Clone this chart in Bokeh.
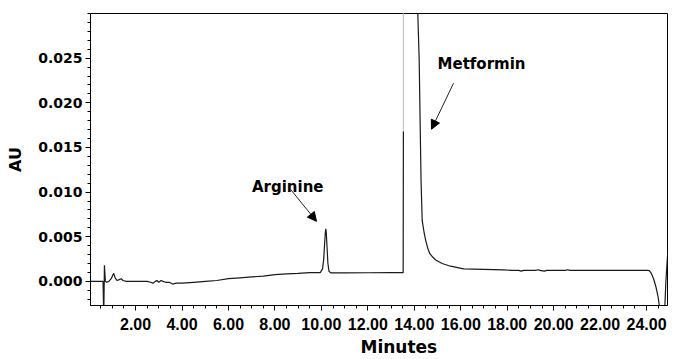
import numpy as np
from bokeh.plotting import figure
from bokeh.models import (Range1d, FixedTicker, NumeralTickFormatter, Arrow,
                          NormalHead, Label, Title)
from bokeh.embed import file_html
from bokeh.resources import INLINE

# ---- data ----
time_min = [0.00, 0.30, 0.60, 0.63, 0.66, 0.70, 0.75, 0.85, 0.95, 1.02, 1.06,
            1.12, 1.20, 1.30, 1.38, 1.46, 1.60, 2.00, 2.50, 2.65, 2.75, 2.85,
            2.92, 3.00, 3.10, 3.18, 3.30, 3.45, 3.60, 3.75, 4.00, 4.50, 5.00,
            5.50, 6.00, 6.50, 7.00, 7.50, 8.00, 8.50, 9.00, 9.50, 9.95, 10.05,
            10.10, 10.14, 10.17, 10.19, 10.21, 10.24, 10.28, 10.33, 10.42,
            11.00, 12.00, 13.00, 13.52, 13.53, 13.54, 14.12, 14.15, 14.21,
            14.25, 14.29, 14.34, 14.42, 14.49, 14.58, 14.67, 14.80, 14.92,
            15.20, 15.56, 16.12, 17.00, 17.84, 18.20, 18.50, 18.60, 18.70,
            19.20, 19.35, 19.40, 19.60, 19.70, 20.50, 20.60, 20.70, 21.50,
            22.50, 23.50, 24.04, 24.12, 24.20, 24.30, 24.40, 24.50, 24.57,
            24.78, 24.83, 24.90, 24.95]
au = [0.0000, 0.0000, 0.0000, -0.0040, 0.0018, 0.0000, -0.0001, 0.0000,
      0.0003, 0.0007, 0.0009, 0.0004, 0.0001, 0.0002, 0.0003, 0.0001,
      0.0000, 0.0000, 0.0000, -0.0001, -0.0002, 0.0000, 0.0001, -0.0001,
      0.0001, 0.0000, -0.0001, -0.0001, -0.0003, -0.0002, -0.0002, -0.0001,
      0.0000, 0.0001, 0.0003, 0.0004, 0.0005, 0.0006, 0.00075, 0.00085,
      0.0009, 0.00098, 0.00098, 0.0014, 0.0025, 0.0043, 0.0055, 0.0059,
      0.0055, 0.0040, 0.0020, 0.0011, 0.00095, 0.00095, 0.00097, 0.00098,
      0.00098, 0.0168, 0.2000, 0.2000, 0.0300, 0.0248, 0.0180, 0.0113,
      0.0068, 0.0055, 0.0046, 0.0037, 0.0031, 0.0027, 0.0024, 0.0020,
      0.0017, 0.0014, 0.00135, 0.0013, 0.00123, 0.00123, 0.00115, 0.00123,
      0.00123, 0.00130, 0.00123, 0.00115, 0.00123, 0.00123, 0.00130,
      0.00123, 0.00123, 0.00123, 0.00123, 0.00123, 0.0012, 0.0009, 0.0003,
      -0.0006, -0.0018, -0.0032, -0.0032, 0.0000, 0.0028, 0.0040]

y_ticks = [0.000, 0.005, 0.010, 0.015, 0.020, 0.025]
x_ticks = [2, 4, 6, 8, 10, 12, 14, 16, 18, 20, 22, 24]

peak_names = ["Arginine", "Metformin"]
label_pos = [(8.55, 0.01057), (15.0, 0.02433)]
arrow_from = [(8.67, 0.01031), (15.69, 0.0222)]
arrow_to = [(9.79, 0.00673), (14.74, 0.01704)]

# split trace: saturated rise (grey) vs. rest (dark)
i_rise = time_min.index(13.53)
i_top = time_min.index(13.54)
i_fall = time_min.index(14.12)

p = figure(width=675, height=359, output_backend="svg", toolbar_location=None,
           x_range=Range1d(0.06, 24.90), y_range=Range1d(-0.0027, 0.0300),
           min_border_left=90, min_border_right=8, min_border_top=13,
           min_border_bottom=0)
p.background_fill_color = "white"
p.border_fill_color = "white"
p.outline_line_color = "black"
p.outline_line_width = 1
p.xgrid.visible = False
p.ygrid.visible = False

dark = "#1a1a1a"
p.line(time_min[:i_rise + 1], au[:i_rise + 1], line_color=dark, line_width=1.2)
p.line(time_min[i_rise:i_top + 1], au[i_rise:i_top + 1], line_color="#c4c4c4",
       line_width=1.2)
p.line(time_min[i_fall:], au[i_fall:], line_color=dark, line_width=1.2)

minor_y = [round(v * 0.001, 4) for v in range(-2, 31)]
minor_x = [v * 0.5 for v in range(0, 50)]
p.yaxis.ticker = FixedTicker(ticks=y_ticks, minor_ticks=minor_y)
p.xaxis.ticker = FixedTicker(ticks=x_ticks, minor_ticks=minor_x)
p.yaxis.formatter = NumeralTickFormatter(format="0.000")
p.xaxis.formatter = NumeralTickFormatter(format="0.00")

for ax in (p.xaxis, p.yaxis):
    ax.axis_line_color = "black"
    ax.major_tick_line_color = "black"
    ax.minor_tick_line_color = "black"
    ax.major_tick_in = 0
    ax.major_tick_out = 5
    ax.minor_tick_in = 0
    ax.minor_tick_out = 3
    ax.major_label_standoff = 3
    ax.major_label_text_font_style = "bold"
    ax.major_label_text_color = "black"

p.xaxis.major_label_standoff = 7
p.yaxis.major_label_text_font = "DejaVu Sans"
p.yaxis.major_label_text_font_size = "14px"
p.xaxis.major_label_text_font = "Liberation Sans"
p.xaxis.major_label_text_font_size = "16px"

p.yaxis.axis_label = "AU"
p.yaxis.axis_label_text_font = "DejaVu Sans"
p.yaxis.axis_label_text_font_size = "16px"
p.yaxis.axis_label_text_font_style = "bold"
p.yaxis.axis_label_text_color = "black"
p.yaxis.axis_label_standoff = 10

# x axis title, shifted right as in the original
p.add_layout(Title(text="Minutes", align="left", offset=270, standoff=5,
                   text_font="DejaVu Sans", text_font_size="17px",
                   text_font_style="bold", text_color="black"), "below")

for name, (lx, ly) in zip(peak_names, label_pos):
    p.add_layout(Label(x=lx, y=ly, text=name,
                       text_align="center" if name == "Arginine" else "left",
                       text_baseline="alphabetic", text_font="DejaVu Sans",
                       text_font_size="15px", text_font_style="bold",
                       text_color="black"))

for (x0, y0), (x1, y1) in zip(arrow_from, arrow_to):
    p.add_layout(Arrow(end=NormalHead(size=9, fill_color="black",
                                      line_color="black"),
                       x_start=x0, y_start=y0, x_end=x1, y_end=y1,
                       line_color="#222222", line_width=1))

open("out.html", "w").write(file_html(p, INLINE))
